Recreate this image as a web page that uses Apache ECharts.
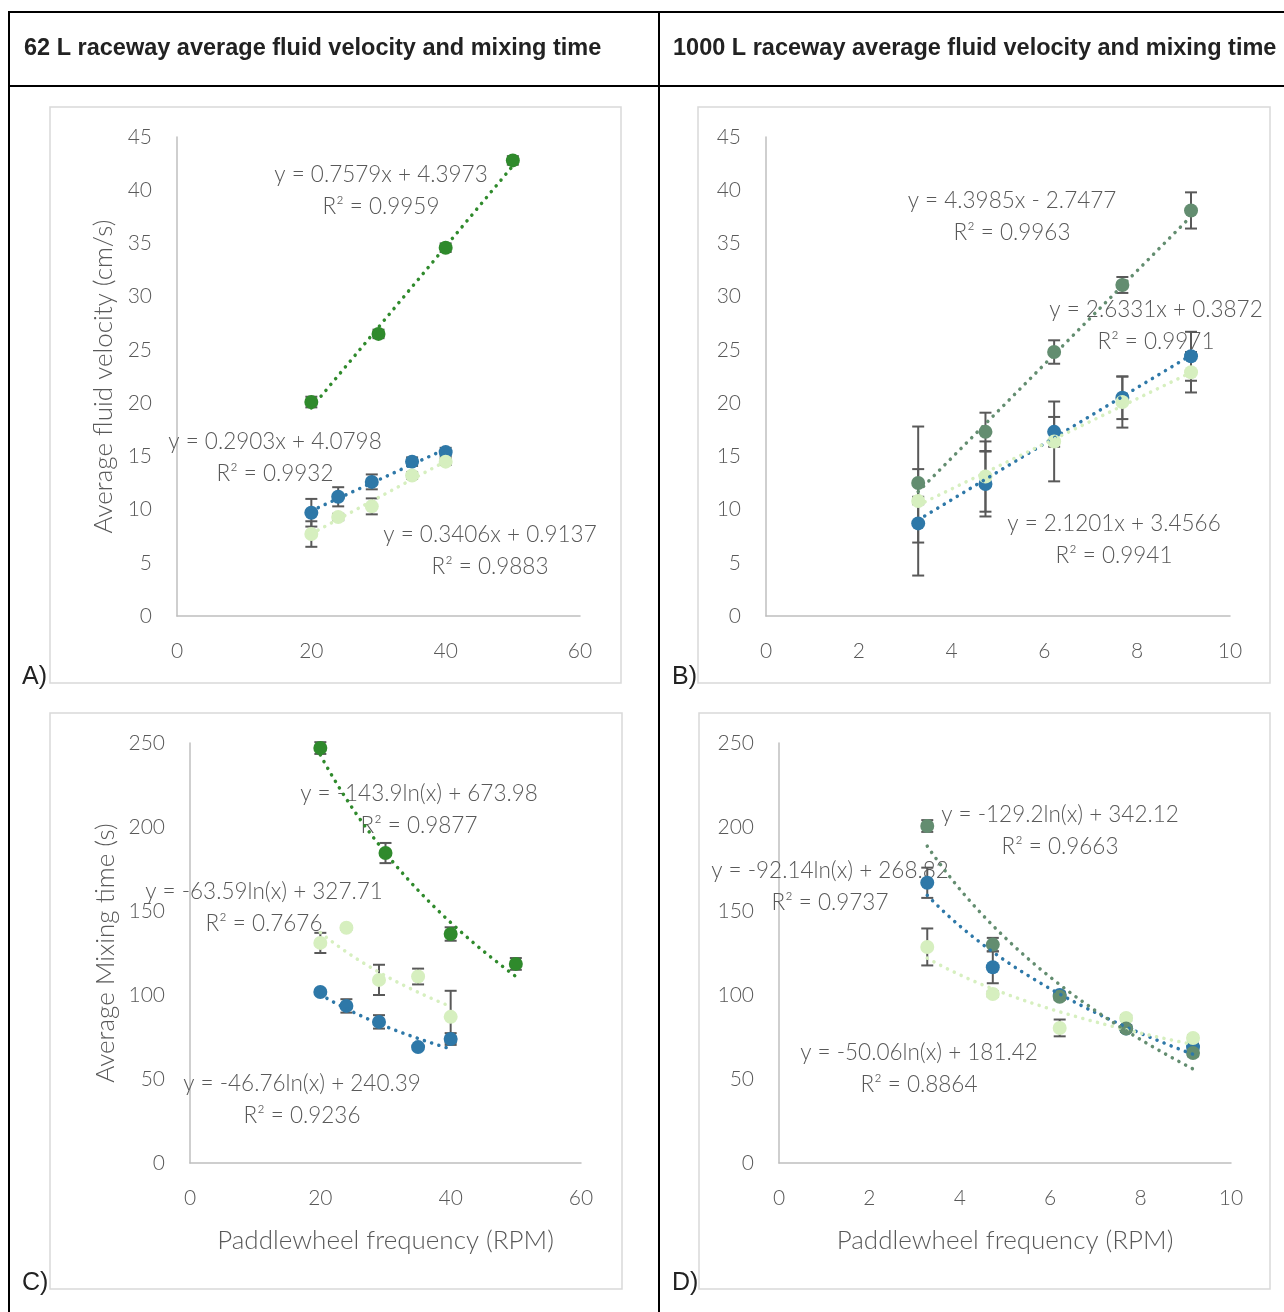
<!DOCTYPE html>
<html>
<head>
<meta charset="utf-8">
<script src="https://cdn.jsdelivr.net/npm/echarts@6/dist/echarts.min.js"></script>
<style>
  html, body { margin: 0; padding: 0; background: #fff; }
  #chart { width: 1284px; height: 1312px; }
</style>
</head>
<body>
<div id="chart"></div>
<script>
// ---------- 62 L raceway (panels A and C) ----------
const rpm62Green = [20, 30, 40, 50];
const rpm62Blue = [20, 24, 29, 35, 40];
const rpm62Light = [20, 24, 29, 35, 40];

const velAGreen = [20.1, 26.5, 34.6, 42.8];
const velAGreenErr = [0.5, 0.4, 0.4, 0.4];
const velABlue = [9.7, 11.2, 12.6, 14.5, 15.4];
const velABlueErr = [1.3, 0.9, 0.7, 0.4, 0.4];
const velALight = [7.7, 9.3, 10.3, 13.2, 14.5];
const velALightErr = [1.2, 0.3, 0.75, 0.3, 0.3];

const mixCGreen = [247, 184.5, 136.3, 118.5];
const mixCGreenErr = [3.5, 6, 4, 3.5];
const mixCBlue = [101.8, 93.5, 84, 69, 73.8];
const mixCBlueErr = [1, 4, 4, 1, 3.5];
const mixCLight = [131, 140, 109, 111, 87];
const mixCLightErr = [6, 1, 9, 4.7, 15.5];

// ---------- 1000 L raceway (panels B and D) ----------
const rpm1000 = [3.28, 4.73, 6.21, 7.68, 9.16];

const velBSage = [12.5, 17.3, 24.8, 31.1, 38.1];
const velBSageErr = [1.3, 1.8, 1.1, 0.75, 1.7];
const velBBlue = [8.7, 12.4, 17.3, 20.5, 24.4];
const velBBlueErr = [1.8, 3.05, 1.4, 2.0, 2.3];
const velBLight = [10.8, 13.1, 16.4, 20.1, 22.9];
const velBLightErr = [7.0, 3.3, 3.75, 2.4, 1.9];

const mixDSage = [200.6, 130, 99, 80, 65.5];
const mixDSageErr = [3.5, 4, 2, 2, 2];
const mixDBlue = [166.8, 116.5, 100, 80, 69];
const mixDBlueErr = [9, 9.5, 2, 2, 2];
const mixDLight = [128.6, 100.6, 80.4, 86.3, 74.4];
const mixDLightErr = [11, 1.5, 5, 1.5, 1.5];

// ---------- fitted trendlines: [slope, intercept] ----------
const fitAGreen = [0.7579, 4.3973];
const fitABlue = [0.2903, 4.0798];
const fitALight = [0.3406, 0.9137];
const fitBSage = [4.3985, -2.7477];
const fitBBlue = [2.6331, 0.3872];
const fitBLight = [2.1201, 3.4566];
// logarithmic: y = a*ln(x) + b
const fitCGreen = [-143.9, 673.98];
const fitCBlue = [-46.76, 240.39];
const fitCLight = [-63.59, 327.71];
const fitDSage = [-129.2, 342.12];
const fitDBlue = [-92.14, 268.82];
const fitDLight = [-50.06, 181.42];

// ---------- axis ticks: [min, max, interval] ----------
const ticksX62 = [0, 60, 20];
const ticksX1000 = [0, 10, 2];
const ticksVel = [0, 45, 5];
const ticksMix = [0, 250, 50];

// ---------- headers and labels ----------
const header62 = '62 L raceway average fluid velocity and mixing time';
const header1000 = '1000 L raceway average fluid velocity and mixing time';
const velTitle = 'Average fluid velocity (cm/s)';
const mixTitle = 'Average Mixing time (s)';
const freqTitle = 'Paddlewheel frequency (RPM)';

const C_GREEN = '#2f8a2c';
const C_SAGE = '#638d70';
const C_BLUE = '#2e78a8';
const C_LIGHT = '#d6efbf';
const C_TEXT = '#595959';
const FONT = 'Lato';

function linearPts(fit, x0, x1) {
  return [[x0, fit[0] * x0 + fit[1]], [x1, fit[0] * x1 + fit[1]]];
}
function logPts(fit, x0, x1) {
  const pts = [];
  const n = 60;
  for (let i = 0; i <= n; i++) {
    const x = x0 + (x1 - x0) * i / n;
    pts.push([x, fit[0] * Math.log(x) + fit[1]]);
  }
  return pts;
}

function errorRender(params, api) {
  const x = api.value(0), lo = api.value(1), hi = api.value(2);
  const pt = api.coord([x, hi]);
  const pb = api.coord([x, lo]);
  const w = 6;
  const style = { stroke: '#595959', lineWidth: 2 };
  return {
    type: 'group',
    children: [
      { type: 'line', shape: { x1: pt[0], y1: pt[1], x2: pb[0], y2: pb[1] }, style },
      { type: 'line', shape: { x1: pt[0] - w, y1: pt[1], x2: pt[0] + w, y2: pt[1] }, style },
      { type: 'line', shape: { x1: pb[0] - w, y1: pb[1], x2: pb[0] + w, y2: pb[1] }, style }
    ]
  };
}

const series = [];
function addGroup(gi, xs, ys, errs, color, trendPts) {
  series.push({
    type: 'custom', xAxisIndex: gi, yAxisIndex: gi, z: 2,
    renderItem: errorRender, silent: true,
    data: xs.map((x, i) => [x, ys[i] - errs[i], ys[i] + errs[i]])
  });
  series.push({
    type: 'scatter', xAxisIndex: gi, yAxisIndex: gi, z: 3,
    symbol: 'circle', symbolSize: 14,
    itemStyle: { color: color, opacity: 1 },
    data: xs.map((x, i) => [x, ys[i]])
  });
  series.push({
    type: 'line', xAxisIndex: gi, yAxisIndex: gi, z: 4,
    showSymbol: false, symbol: 'none', silent: true,
    lineStyle: { color: color, width: 3.5, type: [0.1, 7.5], cap: 'round' },
    data: trendPts
  });
}

// Panel A
addGroup(0, rpm62Blue, velABlue, velABlueErr, C_BLUE, linearPts(fitABlue, 20, 40));
addGroup(0, rpm62Light, velALight, velALightErr, C_LIGHT, linearPts(fitALight, 20, 40));
addGroup(0, rpm62Green, velAGreen, velAGreenErr, C_GREEN, linearPts(fitAGreen, 20, 50));
// Panel B
addGroup(1, rpm1000, velBBlue, velBBlueErr, C_BLUE, linearPts(fitBBlue, rpm1000[0], rpm1000[4]));
addGroup(1, rpm1000, velBLight, velBLightErr, C_LIGHT, linearPts(fitBLight, rpm1000[0], rpm1000[4]));
addGroup(1, rpm1000, velBSage, velBSageErr, C_SAGE, linearPts(fitBSage, rpm1000[0], rpm1000[4]));
// Panel C
addGroup(2, rpm62Blue, mixCBlue, mixCBlueErr, C_BLUE, logPts(fitCBlue, 20, 40));
addGroup(2, rpm62Light, mixCLight, mixCLightErr, C_LIGHT, logPts(fitCLight, 20, 40));
addGroup(2, rpm62Green, mixCGreen, mixCGreenErr, C_GREEN, logPts(fitCGreen, 20, 50));
// Panel D
addGroup(3, rpm1000, mixDBlue, mixDBlueErr, C_BLUE, logPts(fitDBlue, rpm1000[0], rpm1000[4]));
addGroup(3, rpm1000, mixDLight, mixDLightErr, C_LIGHT, logPts(fitDLight, rpm1000[0], rpm1000[4]));
addGroup(3, rpm1000, mixDSage, mixDSageErr, C_SAGE, logPts(fitDSage, rpm1000[0], rpm1000[4]));

const axisLine = { show: true, lineStyle: { color: '#bfbfbf', width: 1.5 } };
const labelStyle = { color: C_TEXT, fontFamily: FONT, fontWeight: 300, fontSize: 21 };
const nameStyle = { color: C_TEXT, fontFamily: FONT, fontWeight: 300, fontSize: 26 };

function xAx(gi, t, name) {
  const ax = {
    type: 'value', gridIndex: gi, min: t[0], max: t[1], interval: t[2],
    axisLine: axisLine, axisTick: { show: false }, splitLine: { show: false },
    axisLabel: Object.assign({ margin: 25 }, labelStyle)
  };
  if (name) {
    ax.name = name; ax.nameLocation = 'middle'; ax.nameGap = 65; ax.nameTextStyle = nameStyle;
  }
  return ax;
}
function yAx(gi, t, name, gap) {
  const ax = {
    type: 'value', gridIndex: gi, min: t[0], max: t[1], interval: t[2],
    axisLine: axisLine, axisTick: { show: false }, splitLine: { show: false },
    axisLabel: Object.assign({ margin: 25 }, labelStyle)
  };
  if (name) {
    ax.name = name; ax.nameLocation = 'middle'; ax.nameGap = gap; ax.nameTextStyle = nameStyle;
  }
  return ax;
}

// equation labels: [text lines, centre x, first line centre y]
const eqLabels = [
  [['y = 0.7579x + 4.3973', 'R² = 0.9959'], 381, 175],
  [['y = 0.2903x + 4.0798', 'R² = 0.9932'], 275, 442],
  [['y = 0.3406x + 0.9137', 'R² = 0.9883'], 490, 535],
  [['y = 4.3985x - 2.7477', 'R² = 0.9963'], 1012, 201],
  [['y = 2.6331x + 0.3872', 'R² = 0.9971'], 1156, 310],
  [['y = 2.1201x + 3.4566', 'R² = 0.9941'], 1114, 524],
  [['y = -143.9ln(x) + 673.98', 'R² = 0.9877'], 419, 794],
  [['y = -63.59ln(x) + 327.71', 'R² = 0.7676'], 264, 892],
  [['y = -46.76ln(x) + 240.39', 'R² = 0.9236'], 302, 1084],
  [['y = -129.2ln(x) + 342.12', 'R² = 0.9663'], 1060, 815],
  [['y = -92.14ln(x) + 268.82', 'R² = 0.9737'], 830, 871],
  [['y = -50.06ln(x) + 181.42', 'R² = 0.8864'], 919, 1053]
];

const graphics = [];
// table rules
const rule = { stroke: '#000', lineWidth: 2 };
graphics.push({ type: 'line', shape: { x1: 8, y1: 12, x2: 1284, y2: 12 }, style: rule, z: 1 });
graphics.push({ type: 'line', shape: { x1: 8, y1: 86, x2: 1284, y2: 86 }, style: rule, z: 1 });
graphics.push({ type: 'line', shape: { x1: 9, y1: 11, x2: 9, y2: 1312 }, style: rule, z: 1 });
graphics.push({ type: 'line', shape: { x1: 659, y1: 11, x2: 659, y2: 1312 }, style: rule, z: 1 });
// header texts
[[header62, 24], [header1000, 673]].forEach(h => {
  graphics.push({ type: 'text', z: 1, style: {
    text: h[0], x: h[1], y: 49, fill: '#222', fontFamily: 'Liberation Sans', fontWeight: 'bold',
    fontSize: 23.5, align: 'left', verticalAlign: 'middle' } });
});
// chart frames
[[50, 107, 571, 576], [698, 107, 572, 576], [50, 713, 572, 576], [699, 713, 571, 576]].forEach(r => {
  graphics.push({ type: 'rect', z: 0, shape: { x: r[0], y: r[1], width: r[2], height: r[3] },
    style: { fill: 'none', stroke: '#d9d9d9', lineWidth: 1.5 } });
});
// panel letters
[['A)', 22, 677], ['B)', 672, 677], ['C)', 22, 1283], ['D)', 672, 1283]].forEach(p => {
  graphics.push({ type: 'text', z: 5, style: {
    text: p[0], x: p[1], y: p[2], fill: '#222', fontFamily: 'Liberation Sans',
    fontSize: 25, align: 'left', verticalAlign: 'middle' } });
});
// trendline equations
eqLabels.forEach(e => {
  e[0].forEach((line, k) => {
    graphics.push({ type: 'text', z: 1, style: {
      text: line, x: e[1], y: e[2] + k * 32, fill: C_TEXT, fontFamily: FONT, fontWeight: 300,
      fontSize: 22.5, align: 'center', verticalAlign: 'middle' } });
  });
});

const chart = echarts.init(document.getElementById('chart'), null, { renderer: 'canvas', width: 1284, height: 1312 });
chart.setOption({
  backgroundColor: '#fff',
  animation: false,
  grid: [
    { left: 177, top: 137, width: 403, height: 479 },
    { left: 766, top: 137, width: 464, height: 479 },
    { left: 190, top: 743, width: 391, height: 420 },
    { left: 779, top: 743, width: 452, height: 420 }
  ],
  xAxis: [xAx(0, ticksX62), xAx(1, ticksX1000), xAx(2, ticksX62, freqTitle), xAx(3, ticksX1000, freqTitle)],
  yAxis: [yAx(0, ticksVel, velTitle, 60), yAx(1, ticksVel), yAx(2, ticksMix, mixTitle, 71), yAx(3, ticksMix)],
  graphic: graphics,
  series: series
});
</script>
</body>
</html>
